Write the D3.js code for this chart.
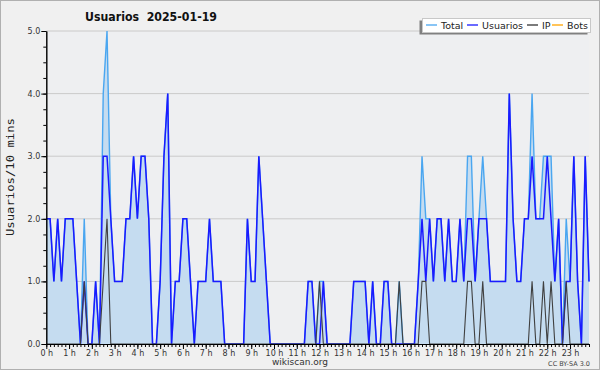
<!DOCTYPE html>
<html>
<head>
<meta charset="utf-8">
<script src="https://cdn.jsdelivr.net/npm/d3@7"></script>
<style>
  body { margin: 0; background: #f0f0f0; }
  svg { display: block; font-family: "DejaVu Sans", sans-serif; }
</style>
</head>
<body>
<svg id="chart" width="600" height="370"></svg>
<script>
// one value per 10 minutes, 6 per hour (00:00 .. 23:50)
const hourLabels = d3.range(24).map(h => `${h} h`);

const total = [
  2,2,1,2,1,2, 2,2,1,0,2,0, 0,1,0,4,5,2, 1,1,1,2,2,3,
  2,3,3,2,0,0, 1,3,4,0,1,1, 2,2,1,0,1,1, 1,2,1,1,1,0,
  0,0,0,0,0,2, 1,1,3,2,1,0, 0,0,0,0,0,0, 0,0,0,1,1,0,
  1,1,0,0,0,0, 0,0,0,1,1,1, 1,0,1,0,0,1, 1,0,0,1,0,0,
  0,0,1,3,2,2, 1,2,2,1,2,1, 1,2,1,3,3,1, 2,3,2,1,1,1,
  1,1,4,2,1,1, 2,2,4,2,2,3, 3,3,1,2,0,2, 1,3,1,0,3,1
];

const usuarios = [
  2,2,1,2,1,2, 2,2,1,0,1,0, 0,1,0,3,3,2, 1,1,1,2,2,3,
  2,3,3,2,0,0, 1,3,4,0,1,1, 2,2,1,0,1,1, 1,2,1,1,1,0,
  0,0,0,0,0,2, 1,1,3,2,1,0, 0,0,0,0,0,0, 0,0,0,1,1,0,
  0,1,0,0,0,0, 0,0,0,1,1,1, 1,0,1,0,0,1, 1,0,0,0,0,0,
  0,0,1,2,1,2, 1,2,2,1,2,1, 1,2,1,2,2,1, 2,2,2,1,1,1,
  1,1,4,2,1,1, 2,2,3,2,2,2, 3,2,1,2,0,1, 1,3,1,0,3,1
];

const ip = [
  0,0,0,0,0,0, 0,0,0,0,1,0, 0,0,0,1,2,0, 0,0,0,0,0,0,
  0,0,0,0,0,0, 0,0,0,0,0,0, 0,0,0,0,0,0, 0,0,0,0,0,0,
  0,0,0,0,0,0, 0,0,0,0,0,0, 0,0,0,0,0,0, 0,0,0,0,0,0,
  1,0,0,0,0,0, 0,0,0,0,0,0, 0,0,0,0,0,0, 0,0,0,1,0,0,
  0,0,0,1,1,0, 0,0,0,0,0,0, 0,0,0,1,1,0, 0,1,0,0,0,0,
  0,0,0,0,0,0, 0,0,1,0,0,1, 0,1,0,0,0,1, 0,0,0,0,0,0
];

const yTicks = [0, 1, 2, 3, 4, 5];

const legendItems = [
  { name: 'Total', color: '#4aa6f0' },
  { name: 'Usuarios', color: '#1a1aff' },
  { name: 'IP', color: '#333333' },
  { name: 'Bots', color: '#ffa500' }
];

const svg = d3.select('#chart');
const W = 600, H = 370;
const plot = { left: 46.3, right: 589, top: 31, bottom: 344 };

// background + frame
svg.append('rect')
  .attr('x', 0.5).attr('y', 0.5)
  .attr('width', W - 1).attr('height', H - 1)
  .attr('fill', '#f0f0f0')
  .attr('stroke', '#b0b0b0');

svg.append('rect')
  .attr('x', plot.left).attr('y', plot.top)
  .attr('width', plot.right - plot.left).attr('height', plot.bottom - plot.top)
  .attr('fill', '#eeeff1');

const x = d3.scaleLinear().domain([0, total.length - 1]).range([plot.left, plot.right]);
const y = d3.scaleLinear().domain([0, 5]).range([plot.bottom, plot.top]);

// grid lines
svg.append('g')
  .selectAll('line')
  .data(yTicks.filter(d => d > 0))
  .join('line')
  .attr('x1', plot.left).attr('x2', plot.right)
  .attr('y1', d => y(d)).attr('y2', d => y(d))
  .attr('stroke', '#cacaca')
  .attr('stroke-width', 1);

// area + lines
const idx = d3.range(total.length);

svg.append('path')
  .datum(idx)
  .attr('fill', '#c5dcf0')
  .attr('d', d3.area().x(i => x(i)).y0(y(0)).y1(i => y(total[i])));

const line = arr => d3.line().x(i => x(i)).y(i => y(arr[i]));

svg.append('path')
  .datum(idx)
  .attr('fill', 'none')
  .attr('stroke', legendItems[0].color)
  .attr('stroke-width', 1.4)
  .attr('d', line(total));

svg.append('path')
  .datum(idx)
  .attr('fill', 'none')
  .attr('stroke', legendItems[1].color)
  .attr('stroke-width', 1.5)
  .attr('d', line(usuarios));

svg.append('path')
  .datum(idx)
  .attr('fill', 'none')
  .attr('stroke', '#404040')
  .attr('stroke-width', 1.1)
  .attr('d', line(ip));

// x axis: minor ticks every 10 min, major ticks at each hour
const xMinor = svg.append('g')
  .attr('transform', `translate(0,${plot.bottom})`)
  .call(d3.axisBottom(x).tickValues(idx).tickSize(3).tickFormat('').tickSizeOuter(0));

const xMajor = svg.append('g')
  .attr('transform', `translate(0,${plot.bottom})`)
  .call(d3.axisBottom(x)
    .tickValues(d3.range(0, total.length, 6))
    .tickSize(5)
    .tickPadding(1)
    .tickFormat(i => hourLabels[i / 6])
    .tickSizeOuter(0));

// y axis: minor ticks every 0.25, labels at integers
const yMinor = svg.append('g')
  .attr('transform', `translate(${plot.left},0)`)
  .call(d3.axisLeft(y).tickValues(d3.range(0, 5.01, 0.25)).tickSize(3).tickFormat('').tickSizeOuter(0));

const yMajor = svg.append('g')
  .attr('transform', `translate(${plot.left},0)`)
  .call(d3.axisLeft(y).tickValues(yTicks).tickSize(5).tickPadding(1).tickFormat(d3.format('.1f')).tickSizeOuter(0));

[xMinor, xMajor, yMinor, yMajor].forEach(g => {
  g.selectAll('path.domain').attr('stroke', '#000');
  g.selectAll('.tick line').attr('stroke', '#000');
  g.selectAll('text')
    .attr('fill', '#333')
    .style('font-family', '"DejaVu Sans", sans-serif')
    .style('font-size', '8px');
});

// title (two spaces between name and date)
svg.append('text')
  .attr('x', 85).attr('y', 20.7)
  .attr('textLength', 132)
  .attr('lengthAdjust', 'spacingAndGlyphs')
  .style('font-weight', 'bold')
  .style('font-size', '12.5px')
  .attr('fill', '#111')
  .text('Usuarios \u00a02025-01-19');

// y label
svg.append('text')
  .attr('transform', 'translate(13.5,177) rotate(-90)')
  .attr('text-anchor', 'middle')
  .attr('textLength', 118)
  .attr('lengthAdjust', 'spacingAndGlyphs')
  .style('font-family', '"DejaVu Sans Mono", monospace')
  .style('font-size', '10.5px')
  .attr('fill', '#222')
  .text('Usuarios/10 mins');

// legend
const legend = svg.append('g');
legend.append('rect')
  .attr('x', 419.5).attr('y', 20.5)
  .attr('width', 168).attr('height', 14)
  .attr('fill', '#808080');
legend.append('rect')
  .attr('x', 422.5).attr('y', 18.5)
  .attr('width', 168).attr('height', 14)
  .attr('fill', '#fff')
  .attr('stroke', '#c8c8c8');

const legendX = [426, 467, 527, 552];
legendItems.forEach((d, k) => {
  const lx = legendX[k];
  legend.append('line')
    .attr('x1', lx).attr('x2', lx + 11)
    .attr('y1', 25).attr('y2', 25)
    .attr('stroke', d.color)
    .attr('stroke-width', 1.3);
  legend.append('text')
    .attr('x', lx + 15).attr('y', 28.8)
    .style('font-size', '9.5px')
    .attr('fill', '#222')
    .text(d.name);
});

// footer
svg.append('text')
  .attr('x', 300).attr('y', 365)
  .attr('text-anchor', 'middle')
  .style('font-size', '9px')
  .attr('fill', '#333')
  .text('wikiscan.org');

svg.append('text')
  .attr('x', 590).attr('y', 365.5)
  .attr('text-anchor', 'end')
  .style('font-size', '6.5px')
  .attr('fill', '#444')
  .text('CC BY-SA 3.0');
</script>
</body>
</html>
